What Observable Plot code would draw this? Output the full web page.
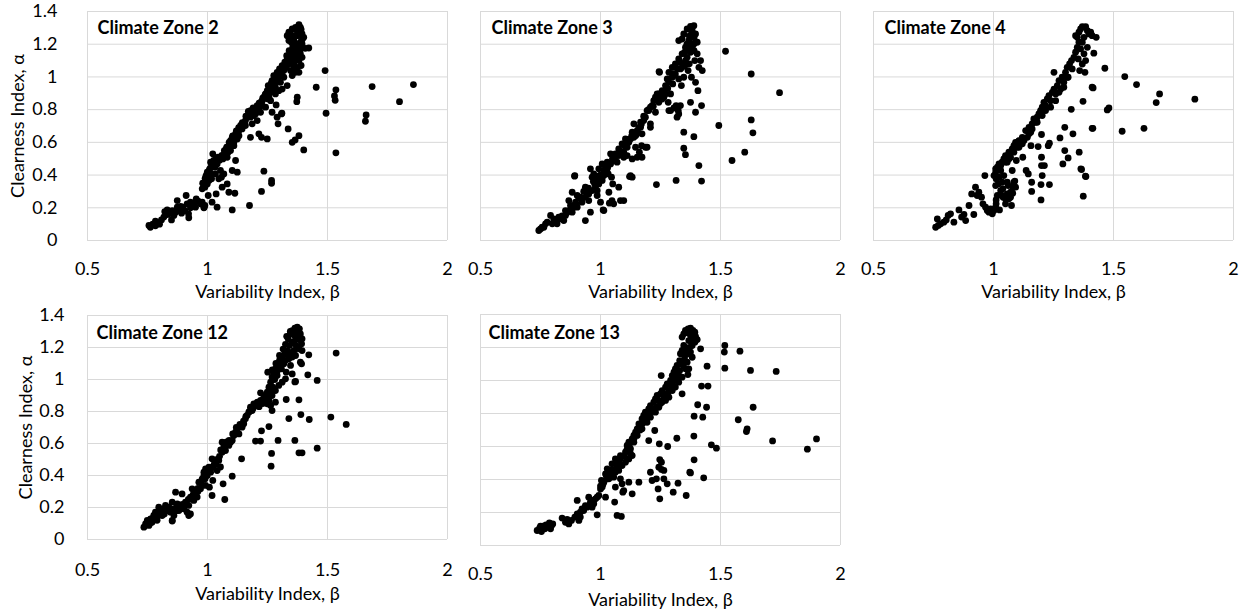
<!DOCTYPE html>
<html><head><meta charset="utf-8">
<script src="https://cdn.jsdelivr.net/npm/d3@7"></script>
<script src="https://cdn.jsdelivr.net/npm/@observablehq/plot@0.6"></script>
<style>
body{margin:0;background:#fff;width:1247px;height:614px;position:relative;overflow:hidden;font-family:Lato,"Open Sans",sans-serif}
.panel{position:absolute}
.panel svg{max-width:none !important;background:transparent !important}
</style></head><body><div id="root"></div>
<script>
const xTicks=[0.5,1,1.5,2];
const yTicks=[0,0.2,0.4,0.6,0.8,1,1.2,1.4];
const xLabel="Variability Index, β";
const yLabel="Clearness Index, α";
const titles=["Climate Zone 2","Climate Zone 3","Climate Zone 4","Climate Zone 12","Climate Zone 13"];

const zone2=[[0.756,0.092],[0.762,0.081],[0.772,0.10],[0.783,0.09],[0.79,0.11],[0.80,0.10],[0.808,0.126],[0.818,0.143],[0.822,0.177],[0.832,0.187],[0.839,0.163],[0.85,0.126],[0.86,0.153],[0.867,0.173],[0.874,0.204],[0.874,0.244],[0.883,0.183],[0.892,0.167],[0.897,0.204],[0.906,0.183],[0.911,0.275],[0.915,0.224],[0.922,0.139],[0.929,0.20],[0.936,0.228],[0.944,0.214],[0.953,0.255],[0.961,0.24],[0.971,0.224],[0.978,0.234],[0.985,0.20],[0.989,0.214],[0.783,0.118],[0.832,0.159],[0.853,0.183],[0.888,0.208],[0.929,0.234],[0.95,0.204],[0.921,0.163],[0.986,0.204],
[0.978,0.316],[0.985,0.346],[0.992,0.367],[0.994,0.397],[0.999,0.418],[1.003,0.387],[1.008,0.432],[1.013,0.407],[1.017,0.458],[1.022,0.53],[1.026,0.489],[1.031,0.448],[1.036,0.499],[1.04,0.468],[1.044,0.509],[0.999,0.346],[0.989,0.326],[1.006,0.367],[1.017,0.377],[1.033,0.407],[1.047,0.377],[1.054,0.428],[1.058,0.387],[1.068,0.407],[1.013,0.479],[1.003,0.275],[1.019,0.234],
[1.064,0.499],[1.072,0.53],[1.078,0.56],[1.086,0.54],[1.092,0.58],[1.096,0.611],[1.103,0.631],[1.11,0.60],[1.117,0.652],[1.124,0.621],[1.131,0.672],[1.138,0.703],[1.144,0.682],[1.151,0.713],[1.158,0.733],[1.165,0.754],[1.172,0.774],[1.179,0.794],[1.186,0.784],[1.193,0.764],[1.20,0.804],[1.207,0.825],[1.214,0.815],[1.221,0.845],[1.228,0.855],[1.235,0.876],[1.242,0.896],[1.249,0.916],[1.253,0.947],[1.256,0.876],[1.263,0.937],[1.269,0.978],[1.272,0.916],[1.276,1.008],[1.283,0.967],[1.29,1.028],[1.294,0.998],[1.30,1.049],[1.308,1.018],[1.311,1.069],[1.318,1.039],[1.322,1.09],[1.328,1.059],[1.332,1.11],[1.339,1.079],[1.342,1.13],[1.346,1.10],[1.35,1.151],[1.353,1.12],[1.36,1.171],[1.364,1.141],[1.367,1.202],[1.36,1.222],[1.353,1.242],[1.346,1.263],[1.339,1.273],[1.353,1.293],[1.367,1.303],[1.381,1.32],[1.387,1.303],[1.394,1.263],[1.401,1.242],[1.394,1.202],[1.381,1.181],[1.374,1.161],[1.387,1.141],[1.381,1.10],[1.394,1.12],[1.374,1.059],[1.381,1.028],[1.339,1.222],[1.332,1.252],[1.374,1.252],[1.387,1.212],
[1.263,0.906],[1.249,0.866],[1.228,0.825],[1.20,0.774],[1.179,0.754],[1.158,0.703],[1.131,0.641],[1.11,0.58],[1.096,0.55],[1.082,0.509],
[1.283,0.937],[1.304,0.967],[1.318,0.998],[1.346,1.039],[1.36,1.079],[1.367,1.028],[1.353,1.008],[1.332,0.947],[1.311,0.926],[1.297,0.916],[1.283,0.896],[1.263,0.855],[1.242,0.815],[1.221,0.784],[1.207,0.733],[1.186,0.713],
[1.37,1.29],[1.375,1.27],[1.36,1.25],[1.35,1.21],[1.355,1.18],[1.34,1.16],[1.33,1.13],[1.325,1.07],[1.31,1.05],[1.30,1.02],[1.29,1.0],[1.28,0.99],[1.265,0.96],[1.255,0.92],[1.24,0.89],[1.23,0.87],[1.215,0.84],[1.19,0.81],[1.17,0.79],[1.16,0.76],[1.145,0.72],[1.13,0.69],[1.12,0.67],[1.105,0.64],[1.09,0.60],[1.08,0.57],[1.07,0.55],[1.06,0.52],[1.05,0.49],[1.02,0.47],[1.01,0.44],[1.0,0.40],[0.99,0.38],[0.98,0.35],[1.39,1.29],[1.395,1.23],[1.385,1.16],[1.375,1.12],[1.365,1.10],[1.36,1.06],[1.39,1.07],
[1.422,1.177],[1.407,1.175],[1.49,1.039],[1.453,0.937],[1.494,0.778],[1.269,0.784],[1.29,0.754],[1.294,0.713],[1.308,0.774],[1.336,0.682],[1.353,0.60],[1.381,0.641],[1.365,0.615],[1.374,0.876],[1.372,0.849],[1.401,0.554],[1.179,0.631],[1.214,0.652],[1.225,0.631],[1.249,0.621],[1.175,0.214],[1.103,0.187],[1.04,0.204],[1.036,0.285],[1.061,0.326],[1.082,0.346],[1.089,0.295],[1.114,0.289],[1.103,0.428],[1.124,0.418],[1.117,0.489],[1.235,0.424],[1.267,0.367],[1.267,0.35],[1.225,0.30],
[1.858,0.953],[1.80,0.849],[1.686,0.941],[1.661,0.768],[1.658,0.729],[1.535,0.921],[1.529,0.884],[1.532,0.857],[1.535,0.536],[1.31,0.778],[1.286,0.829]];

const zone3=[[0.743,0.061],[0.757,0.081],[0.771,0.102],[0.792,0.153],[0.805,0.132],[0.812,0.122],[0.826,0.143],[0.847,0.122],[0.854,0.183],[0.868,0.244],[0.875,0.214],[0.882,0.173],[0.889,0.204],[0.882,0.295],[0.893,0.397],[0.896,0.234],[0.903,0.275],[0.916,0.265],[0.937,0.326],[0.937,0.122],[0.944,0.295],[0.951,0.244],[0.958,0.173],[0.958,0.438],[0.965,0.387],[0.972,0.407],[0.976,0.346],[0.979,0.377],[0.986,0.305],[0.993,0.438],[0.996,0.397],[1.0,0.367],[0.986,0.275],[1.0,0.234],[1.014,0.183],[1.007,0.468],[1.014,0.428],[1.021,0.448],[1.028,0.479],[1.032,0.407],[1.042,0.53],[1.046,0.387],[1.051,0.346],[1.035,0.295],[1.048,0.244],[1.055,0.224],[1.037,0.228],[1.069,0.479],[1.076,0.326],[1.083,0.244],[1.097,0.244],[1.076,0.56],[1.09,0.591],[1.097,0.54],[1.104,0.621],[1.111,0.57],[1.118,0.60],[1.125,0.397],[1.132,0.387],[1.132,0.662],[1.139,0.713],[1.146,0.641],[1.146,0.57],[1.153,0.509],[1.16,0.692],[1.167,0.723],[1.171,0.58],[1.173,0.652],[1.187,0.754],[1.194,0.57],[1.201,0.794],[1.208,0.713],[1.215,0.825],[1.222,0.855],[1.229,0.784],[1.236,0.896],[1.243,0.845],[1.246,1.028],[1.257,0.916],[1.264,0.876],[1.271,0.947],[1.278,0.988],[1.282,0.845],[1.285,1.028],[1.292,0.896],[1.292,0.794],[1.299,1.059],[1.301,0.957],[1.306,1.008],[1.312,1.079],[1.315,0.825],[1.319,0.754],[1.324,0.794],[1.326,1.11],[1.326,0.988],[1.333,1.049],[1.337,0.947],[1.34,1.141],[1.347,0.998],[1.351,1.069],[1.354,1.181],[1.361,1.12],[1.365,1.039],[1.368,1.222],[1.375,1.151],[1.379,0.998],[1.382,1.283],[1.389,1.202],[1.393,1.10],[1.396,1.263],[1.403,1.141],[1.396,0.967],[1.406,0.916],[1.417,1.10],[1.424,1.039],[1.41,1.059],[1.347,1.263],[1.34,1.232],[1.326,1.222],[1.361,1.293],[1.389,1.313],[1.375,1.309],[1.403,1.212],[1.382,1.181],[1.368,1.161],[1.354,1.10],[1.34,1.059],[1.312,1.018],[1.299,0.998],[1.285,0.967],[1.271,0.896],[1.257,0.865],[1.243,0.896],[1.229,0.876],[1.208,0.815],[1.194,0.794],[1.18,0.733],[1.167,0.692],[1.153,0.672],[1.139,0.631],[1.125,0.621],[1.111,0.60],[1.09,0.54],[1.076,0.519],[1.062,0.53],[1.055,0.489],[1.042,0.468],[1.028,0.438],[1.014,0.397],[1.007,0.367],[0.993,0.346],[0.979,0.326],[0.965,0.305],[0.951,0.285],[0.937,0.265],[0.923,0.234],[0.903,0.204],[0.882,0.204],[0.868,0.183],[0.854,0.153],[0.833,0.132],[0.819,0.102],[0.799,0.102],[0.778,0.112],[0.764,0.081],[0.75,0.071],
[1.38,1.27],[1.37,1.25],[1.39,1.24],[1.36,1.20],[1.38,1.20],[1.35,1.15],[1.39,1.16],[1.33,1.09],[1.37,1.08],[1.32,1.05],[1.30,1.02],[1.28,0.93],[1.26,0.90],[1.25,0.87],[1.24,0.86],[1.22,0.82],[1.2,0.80],[1.18,0.76],[1.17,0.71],[1.15,0.65],[1.13,0.64],[1.12,0.62],[1.1,0.58],[1.08,0.55],[1.06,0.51],[1.05,0.50],[1.03,0.45],[1.02,0.42],[1.0,0.40],[0.99,0.38],[0.97,0.36],[0.95,0.32],[0.93,0.30],[0.91,0.26],[0.9,0.22],[0.88,0.21],[0.86,0.17],[0.84,0.15],[0.82,0.13],
[1.132,0.499],[1.097,0.509],[1.111,0.519],[1.173,0.509],[1.187,0.57],[1.162,0.54],[1.208,0.692],[1.285,0.794],[1.306,0.81],[1.326,0.774],[1.333,0.825],[1.375,0.845],[1.396,0.784],[1.421,0.825],[1.389,0.635],[1.347,0.662],[1.347,0.564],[1.354,0.525],[1.41,0.458],[1.421,0.363],[1.315,0.367],[1.233,0.342],[1.493,0.703],[1.521,1.157],[1.548,0.489],
[1.628,1.018],[1.746,0.904],[1.628,0.737],[1.635,0.658],[1.601,0.54],[1.244,1.033],[1.121,0.391],[1.011,0.187],[0.892,0.393]];

const zone4=[[0.759,0.081],[0.77,0.092],[0.766,0.132],[0.78,0.102],[0.793,0.112],[0.803,0.126],[0.811,0.153],[0.821,0.163],[0.835,0.112],[0.856,0.187],[0.867,0.143],[0.877,0.159],[0.884,0.122],[0.898,0.214],[0.909,0.285],[0.918,0.159],[0.925,0.326],[0.932,0.275],[0.939,0.295],[0.95,0.265],[0.956,0.224],[0.964,0.397],[0.967,0.204],[0.974,0.183],[0.981,0.173],[0.988,0.193],[0.995,0.163],[1.002,0.183],[1.009,0.204],[1.011,0.248],[1.016,0.275],[1.02,0.346],[1.025,0.187],[1.034,0.275],[1.039,0.316],[1.05,0.255],[1.057,0.285],[1.061,0.336],[1.071,0.265],[1.071,0.295],[1.081,0.326],[1.085,0.356],[1.092,0.326],[1.075,0.214],
[1.002,0.397],[1.009,0.418],[1.016,0.448],[1.023,0.468],[1.03,0.428],[1.036,0.479],[1.043,0.499],[1.05,0.519],[1.057,0.479],[1.064,0.54],[1.071,0.509],[1.078,0.56],[1.085,0.58],[1.092,0.60],[1.099,0.57],[1.106,0.611],[1.113,0.591],[1.12,0.631],[1.127,0.611],[1.134,0.672],[1.141,0.631],[1.148,0.692],[1.155,0.662],[1.161,0.713],[1.168,0.743],[1.175,0.723],[1.182,0.754],[1.189,0.774],[1.196,0.794],[1.203,0.815],[1.21,0.845],[1.217,0.825],[1.224,0.866],[1.231,0.886],[1.238,0.855],[1.245,0.906],[1.252,0.926],[1.259,0.896],[1.266,0.947],[1.273,0.978],[1.28,0.926],[1.286,0.998],[1.293,0.967],[1.30,1.028],[1.307,1.059],[1.311,0.998],[1.317,1.079],[1.325,1.10],[1.328,1.049],[1.335,1.12],[1.342,1.151],[1.349,1.181],[1.353,1.11],[1.356,1.212],[1.349,1.242],[1.356,1.273],[1.363,1.293],[1.37,1.307],[1.384,1.307],[1.391,1.283],[1.398,1.263],[1.405,1.273],[1.411,1.252],[1.428,1.242],[1.377,1.242],[1.37,1.212],[1.363,1.171],[1.377,1.141],[1.37,1.079],[1.384,1.10],[1.391,1.181],[1.342,1.252],[1.359,1.039],[1.381,1.028],
[1.307,0.998],[1.293,0.937],[1.273,0.906],[1.259,0.855],[1.238,0.815],[1.217,0.794],[1.203,0.764],[1.182,0.723],[1.161,0.682],[1.148,0.652],[1.12,0.591],[1.106,0.57],[1.085,0.54],[1.064,0.499],[1.05,0.479],[1.03,0.458],[1.009,0.438],[1.011,0.377],[1.023,0.387],[1.043,0.397],[1.078,0.428],[1.057,0.356],[1.036,0.356],[1.009,0.336],[1.03,0.305],
[1.252,1.028],[1.418,1.145],[1.464,1.053],[1.411,0.937],[1.373,0.851],[1.324,0.802],[1.481,0.81],[1.474,0.798],[1.411,0.686],[1.536,0.668],[1.297,0.692],[1.331,0.652],[1.277,0.627],[1.2,0.648],[1.233,0.595],[1.228,0.58],[1.186,0.574],[1.156,0.58],[1.122,0.509],[1.095,0.489],[1.2,0.509],[1.2,0.458],[1.212,0.458],[1.297,0.55],[1.311,0.505],[1.289,0.468],[1.357,0.54],[1.364,0.438],[1.385,0.391],[1.374,0.271],[1.198,0.342],[1.233,0.342],[1.203,0.397],[1.159,0.356],[1.159,0.30],[1.198,0.248],[1.136,0.428],[1.145,0.407],[1.089,0.363],[1.08,0.289],[1.064,0.255],[1.05,0.224],[1.04,0.265],[1.011,0.224],
[1.839,0.864],[1.692,0.896],[1.678,0.843],[1.596,0.953],[1.547,1.002],[1.627,0.686],[1.414,0.686],[1.415,0.933],[1.383,0.393],[1.367,0.434]];

const zone12=[[0.735,0.077],[0.742,0.098],[0.749,0.119],[0.756,0.088],[0.763,0.129],[0.769,0.108],[0.776,0.15],[0.783,0.171],[0.79,0.14],[0.797,0.202],[0.804,0.171],[0.811,0.15],[0.818,0.192],[0.825,0.213],[0.832,0.181],[0.839,0.202],[0.846,0.171],[0.853,0.119],[0.853,0.233],[0.86,0.15],[0.867,0.296],[0.874,0.223],[0.881,0.181],[0.888,0.213],[0.894,0.285],[0.901,0.192],[0.908,0.233],[0.915,0.171],[0.922,0.213],[0.929,0.16],[0.929,0.265],[0.936,0.317],[0.943,0.244],[0.95,0.285],[0.957,0.265],[0.964,0.358],[0.971,0.317],[0.978,0.379],[0.985,0.421],[0.992,0.338],[0.992,0.442],[0.999,0.40],[1.006,0.452],[1.013,0.421],[1.019,0.504],[1.022,0.369],[1.026,0.463],[1.033,0.483],[1.04,0.431],[1.047,0.494],[1.054,0.453],[1.061,0.546],[1.061,0.608],[1.068,0.577],[1.075,0.556],[1.082,0.598],[1.089,0.588],[1.096,0.608],[1.103,0.619],[1.11,0.65],[1.117,0.671],[1.124,0.692],[1.131,0.66],[1.138,0.713],[1.144,0.702],[1.151,0.723],[1.158,0.754],[1.165,0.775],[1.172,0.796],[1.179,0.827],[1.186,0.806],[1.193,0.848],[1.20,0.838],[1.207,0.858],[1.214,0.854],[1.221,0.869],[1.228,0.869],[1.235,0.89],[1.242,0.90],[1.249,0.921],[1.256,0.952],[1.258,0.90],[1.263,0.983],[1.269,1.015],[1.272,0.952],[1.276,1.046],[1.283,1.067],[1.29,1.025],[1.294,1.088],[1.30,1.119],[1.308,1.067],[1.311,1.14],[1.318,1.098],[1.322,1.16],[1.328,1.046],[1.332,1.181],[1.339,1.129],[1.342,1.213],[1.336,1.254],[1.346,1.285],[1.353,1.306],[1.364,1.321],[1.374,1.327],[1.383,1.317],[1.387,1.285],[1.394,1.254],[1.392,1.223],[1.374,1.202],[1.36,1.181],[1.353,1.233],[1.367,1.254],[1.353,1.14],[1.367,1.15],[1.381,1.192],[1.394,1.181],[1.387,1.108],[1.346,1.088],[1.353,1.035],[1.325,1.004],[1.311,0.983],[1.297,0.963],[1.283,0.931],[1.269,0.90],[1.256,0.869],[1.249,0.848],[1.263,0.838],[1.269,0.806],[1.283,0.858],
[0.80,0.185],[0.83,0.2],[0.87,0.2],[0.90,0.21],[0.945,0.3],[0.96,0.32],[0.99,0.38],[1.01,0.44],[1.035,0.47],
[1.27,1.06],[1.285,1.10],[1.30,1.15],[1.315,1.19],[1.325,1.22],[1.33,1.27],[1.345,1.30],[1.36,1.28],[1.375,1.29],[1.38,1.25],[1.36,1.23],[1.37,1.21],[1.35,1.17],[1.34,1.15],[1.325,1.12],[1.31,1.10],[1.3,1.07],[1.29,1.05],[1.28,1.0],[1.26,0.93],[1.245,0.88],[1.23,0.85],[1.215,0.83],[1.19,0.82],[1.175,0.80],[1.16,0.77],[1.15,0.74],[1.135,0.72],[1.12,0.70],[1.105,0.66],[1.09,0.62],[1.08,0.61],[1.07,0.59],[1.055,0.56],[1.05,0.52],[1.04,0.50],[1.03,0.48],[1.02,0.45],[1.0,0.42],[0.985,0.40],[0.975,0.35],[0.96,0.30],[0.94,0.28],[0.92,0.25],[0.895,0.22],[0.87,0.18],[0.85,0.19],[0.82,0.16],[0.79,0.12],[0.77,0.13],[0.76,0.10],
[1.251,1.046],[1.221,0.917],[1.422,1.154],[1.392,1.098],[1.418,1.029],[1.457,0.994],[1.367,0.988],[1.328,0.875],[1.381,0.873],[1.389,0.781],[1.339,0.756],[1.424,0.75],[1.514,0.765],[1.536,1.165],[1.256,0.706],[1.225,0.679],[1.20,0.615],[1.221,0.615],[1.294,0.619],[1.364,0.619],[1.457,0.571],[1.381,0.542],[1.394,0.542],[1.267,0.538],[1.265,0.458],[1.142,0.504],[1.103,0.396],[1.065,0.348],[1.072,0.25],[1.019,0.275],[1.008,0.327],[0.922,0.15],[0.853,0.115],
[1.578,0.719],[1.364,0.985]];

const zone13=[[0.736,0.091],[0.746,0.105],[0.754,0.085],[0.76,0.117],[0.768,0.101],[0.773,0.125],[0.782,0.111],[0.787,0.137],[0.796,0.121],[0.801,0.131],[0.792,0.101],[0.75,0.117],
[0.84,0.166],[0.854,0.141],[0.861,0.158],[0.868,0.131],[0.879,0.152],[0.893,0.172],[0.903,0.192],[0.903,0.273],[0.91,0.152],[0.916,0.202],[0.923,0.222],[0.937,0.242],[0.944,0.232],[0.951,0.293],[0.958,0.263],[0.965,0.232],[0.972,0.253],[0.979,0.283],[0.986,0.186],[0.993,0.303],[1.0,0.343],[1.004,0.394],[1.014,0.384],[1.021,0.293],[1.021,0.434],[1.028,0.465],[1.035,0.404],[1.042,0.444],[1.048,0.495],[1.055,0.414],[1.062,0.525],[1.062,0.354],[1.069,0.475],[1.076,0.455],[1.083,0.404],[1.083,0.545],[1.09,0.374],[1.093,0.323],[1.104,0.566],[1.111,0.606],[1.118,0.626],[1.125,0.586],[1.132,0.545],[1.132,0.646],[1.139,0.667],[1.146,0.687],[1.153,0.707],[1.16,0.737],[1.167,0.717],[1.173,0.768],[1.18,0.788],[1.187,0.808],[1.194,0.778],[1.201,0.828],[1.208,0.848],[1.215,0.818],[1.222,0.869],[1.229,0.889],[1.236,0.909],[1.243,0.879],[1.25,0.919],[1.257,0.939],[1.264,0.909],[1.271,0.96],[1.278,0.98],[1.285,0.939],[1.292,1.0],[1.299,1.03],[1.301,0.97],[1.306,1.051],[1.312,1.071],[1.319,1.091],[1.324,1.04],[1.33,1.121],[1.333,1.162],[1.337,1.101],[1.34,1.182],[1.347,1.212],[1.351,1.152],[1.34,1.263],[1.347,1.283],[1.354,1.303],[1.365,1.313],[1.375,1.317],[1.385,1.303],[1.393,1.293],[1.396,1.268],[1.403,1.248],[1.393,1.232],[1.382,1.212],[1.375,1.273],[1.368,1.242],[1.361,1.192],[1.375,1.172],[1.382,1.141],[1.361,1.111],[1.368,1.071],[1.354,1.071],[1.34,1.02],[1.326,0.99],[1.312,0.96],[1.299,0.939],[1.285,0.899],[1.271,0.879],[1.257,0.869],[1.243,0.838],[1.229,0.808],[1.208,0.778],[1.194,0.747],[1.173,0.707],[1.153,0.667],[1.139,0.626],[1.125,0.556],[1.118,0.525],[1.104,0.505],[1.09,0.485],[1.076,0.505],[1.062,0.444],[1.048,0.424],[1.028,0.404],[1.007,0.354],[0.986,0.293],[0.965,0.273],[0.951,0.242],[0.93,0.212],[0.916,0.172],
[1.36,1.29],[1.37,1.30],[1.38,1.29],[1.39,1.25],[1.38,1.23],[1.37,1.2],[1.36,1.16],[1.35,1.13],[1.345,1.09],[1.33,1.06],[1.32,1.02],[1.31,1.0],[1.295,0.97],[1.28,0.92],[1.265,0.89],[1.25,0.86],[1.235,0.84],[1.22,0.83],[1.205,0.80],[1.19,0.76],[1.175,0.74],[1.165,0.70],[1.15,0.68],[1.14,0.65],[1.12,0.60],[1.11,0.58],[1.1,0.54],[1.08,0.52],[1.07,0.50],[1.05,0.46],[1.04,0.43],[1.025,0.42],[1.01,0.37],[1.0,0.36],
[1.069,0.182],[1.087,0.176],[1.059,0.263],[1.097,0.333],[1.132,0.313],[1.118,0.384],[1.16,0.384],[1.201,0.636],[1.226,0.697],[1.245,0.616],[1.28,0.6],[1.318,0.65],[1.389,0.663],[1.39,0.784],[1.426,0.778],[1.405,0.853],[1.421,0.966],[1.448,0.966],[1.253,1.03],[1.34,0.919],[1.364,1.036],[1.417,1.192],[1.444,1.087],[1.518,1.212],[1.516,1.172],[1.518,1.075],[1.462,0.61],[1.483,0.59],[1.39,0.519],[1.372,0.444],[1.43,0.41],[1.247,0.521],[1.254,0.505],[1.243,0.475],[1.254,0.461],[1.264,0.455],[1.208,0.444],[1.215,0.394],[1.233,0.404],[1.264,0.404],[1.278,0.374],[1.24,0.343],[1.303,0.323],[1.323,0.378],[1.247,0.283],[1.357,0.303],
[1.581,1.178],[1.625,1.061],[1.732,1.055],[1.636,0.838],[1.574,0.762],[1.611,0.707],[1.608,0.691],[1.717,0.634],[1.90,0.646],[1.862,0.584],[1.442,0.838],[1.375,0.44]];

const zones=[zone2,zone3,zone4,zone12,zone13];

const layout=[
 {left:0,top:0,width:460,height:305,ml:87,mr:13,mt:11,mb:65,yAxis:true,ypad:30,xpad:22,tdx:10,tdy:17,xtdy:51.5,ytdx:-69},
 {left:460,top:0,width:390,height:305,ml:20,mr:10,mt:11,mb:65,yAxis:false,xpad:22,tdx:11,tdy:17,xtdy:51.5},
 {left:850,top:0,width:397,height:305,ml:23,mr:14,mt:11,mb:65,yAxis:false,xpad:22,tdx:11,tdy:17,xtdy:51.5},
 {left:0,top:305,width:460,height:309,ml:87,mr:13,mt:10,mb:75,yAxis:true,ypad:23,xpad:24,tdx:9,tdy:18,xtdy:54.5,ytdx:-61},
 {left:460,top:305,width:390,height:309,ml:20,mr:10,mt:9,mb:69,yAxis:false,xpad:22,tdx:8,tdy:19,xtdy:54.5}
];

const FS=18;
const fmt=d=>String(d);
const root=document.getElementById("root");
layout.forEach((L,i)=>{
  const marks=[
    Plot.gridX(xTicks,{stroke:"#d9d9d9",strokeOpacity:1,strokeWidth:1}),
    Plot.gridY(yTicks,{stroke:"#d9d9d9",strokeOpacity:1,strokeWidth:1}),
    Plot.dot(zones[i],{x:d=>d[0],y:d=>d[1],r:3.4,fill:"#000",stroke:null}),
    Plot.axisX(xTicks,{tickSize:0,tickPadding:L.xpad,label:null,fontSize:FS,tickFormat:fmt}),
    Plot.text([titles[i]],{text:d=>d,frameAnchor:"top-left",dx:L.tdx,dy:L.tdy,textAnchor:"start",lineAnchor:"middle",fontWeight:"bold",fontSize:FS}),
    Plot.text([xLabel],{text:d=>d,frameAnchor:"bottom",dy:L.xtdy,textAnchor:"middle",lineAnchor:"middle",fontSize:FS})
  ];
  if(L.yAxis){
    marks.push(Plot.axisY(yTicks,{tickSize:0,tickPadding:L.ypad,label:null,fontSize:FS,tickFormat:fmt}));
    marks.push(Plot.text([yLabel],{text:d=>d,frameAnchor:"left",dx:L.ytdx,rotate:-90,textAnchor:"middle",lineAnchor:"middle",fontSize:FS}));
  } else {
    marks.push(Plot.axisY({ticks:[],tickSize:0,label:null}));
  }
  const chart=Plot.plot({
    width:L.width,height:L.height,
    marginLeft:L.ml,marginRight:L.mr,marginTop:L.mt,marginBottom:L.mb,
    x:{domain:[0.5,2]},
    y:{domain:[0,1.4]},
    style:{fontFamily:"Lato, 'Open Sans', sans-serif",fontSize:FS+"px",color:"#000",background:"transparent",overflow:"visible"},
    marks
  });
  const div=document.createElement("div");
  div.className="panel";
  div.style.left=L.left+"px";div.style.top=L.top+"px";
  div.style.width=L.width+"px";div.style.height=L.height+"px";
  div.appendChild(chart);
  root.appendChild(div);
});
</script></body></html>
